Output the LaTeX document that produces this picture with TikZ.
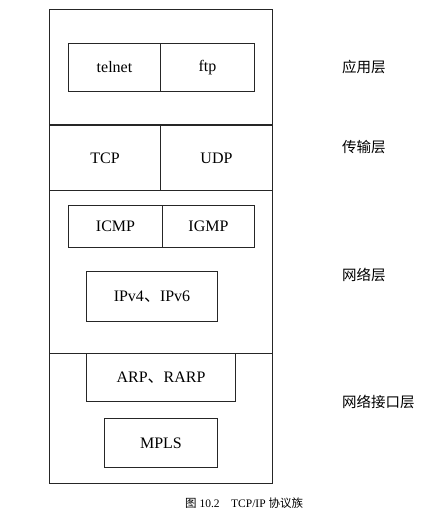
\documentclass[tikz,border=0pt]{standalone}
\usepackage{fontspec}
\setmainfont{Liberation Serif}
\newfontfamily\cjk{Noto Sans CJK SC}
\begin{document}
\begin{tikzpicture}[x=1pt,y=-1pt,
  box/.style={draw=black!85,line width=1pt,rectangle,inner sep=0pt,anchor=north west,
    font=\fontsize{16}{19}\selectfont},
  lbl/.style={anchor=west,inner sep=0pt,font=\cjk\fontsize{14.5}{17}\selectfont},
  captext/.style={inner sep=0pt,font=\fontsize{11.5}{14}\selectfont}]
\useasboundingbox (0,0) rectangle (435,519);
% layers
\node[box,minimum width=223,minimum height=115] (app) at (49,9) {};
\node[box,minimum width=111,minimum height=65] (tcp) at (49,125) {TCP};
\node[box,minimum width=112,minimum height=65] (udp) at (160,125) {UDP};
\node[box,minimum width=223,minimum height=163] (net) at (49,190) {};
\node[box,minimum width=223,minimum height=130] (link) at (49,353) {};
% application
\node[box,minimum width=92,minimum height=48] (telnet) at (68,43) {telnet};
\node[box,minimum width=94,minimum height=48] (ftp) at (160,43) {ftp};
% network
\node[box,minimum width=94,minimum height=42] (icmp) at (68,205) {ICMP};
\node[box,minimum width=92,minimum height=42] (igmp) at (162,205) {IGMP};
\node[box,minimum width=131,minimum height=50] (ip) at (86,271) {IPv4{\cjk 、}IPv6};
% link
\node[box,minimum width=149,minimum height=48] (arp) at (86,353) {ARP{\cjk 、}RARP};
\node[box,minimum width=113,minimum height=49] (mpls) at (104,418) {MPLS};
% labels
\node[lbl] (l1) at (342,67) {应用层};
\node[lbl] (l2) at (342,147) {传输层};
\node[lbl] (l3) at (342,275) {网络层};
\node[lbl] (l4) at (342,402) {网络接口层};
% caption
\node[captext,anchor=west] (caption) at (185,503) {{\cjk 图}\ 10.2\quad TCP/IP {\cjk 协议族}};
\end{tikzpicture}
\end{document}
